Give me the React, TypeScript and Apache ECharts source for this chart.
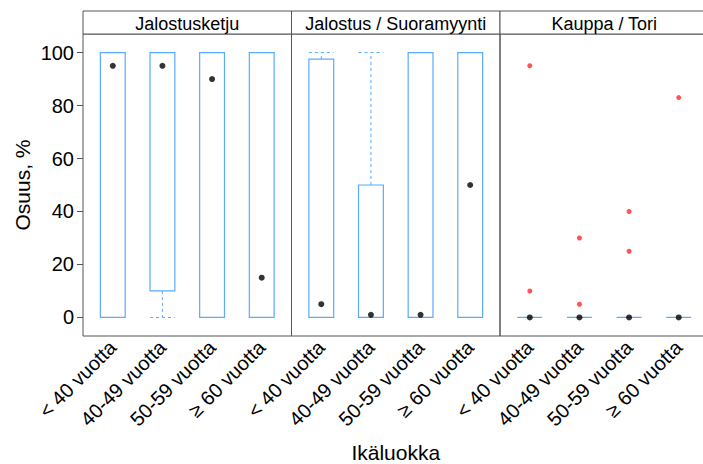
import React, { useEffect, useRef } from "react";
import * as echarts from "echarts";

const categories = ["< 40 vuotta", "40-49 vuotta", "50-59 vuotta", "≥ 60 vuotta"];
const panelTitles = ["Jalostusketju", "Jalostus / Suoramyynti", "Kauppa / Tori"];
const yTicks = [0, 20, 40, 60, 80, 100];

// [category index (1..4), lower whisker, Q1, median, Q3, upper whisker]
const jalostusketjuBoxes = [
  [1, 0, 0, 95, 100, 100],
  [2, 0, 10, 95, 100, 100],
  [3, 0, 0, 90, 100, 100],
  [4, 0, 0, 15, 100, 100],
];
const suoramyyntiBoxes = [
  [1, 0, 0, 5, 97.5, 100],
  [2, 0, 0, 1, 50, 100],
  [3, 0, 0, 1, 100, 100],
  [4, 0, 0, 50, 100, 100],
];
const kauppaBoxes = [
  [1, 0, 0, 0, 0, 0],
  [2, 0, 0, 0, 0, 0],
  [3, 0, 0, 0, 0, 0],
  [4, 0, 0, 0, 0, 0],
];
const jalostusketjuOutliers: number[][] = [];
const suoramyyntiOutliers: number[][] = [];
const kauppaOutliers = [
  [1, 95],
  [1, 10],
  [2, 30],
  [2, 5],
  [3, 40],
  [3, 25],
  [4, 83],
];

const BLUE = "#5aaaff";
const RED = "#ff2a2a";
const FRAME = "#555555";
const FONT = "Liberation Sans, Arial, sans-serif";

const panelLeft = [83, 291.5, 500];
const panelWidth = 208.5;
const panelTop = 34;
const panelHeight = 302;
const stripTop = 11;

export default function App() {
  const ref = useRef<HTMLDivElement>(null);
  useEffect(() => {
    if (!ref.current) return;
    const chart = echarts.init(ref.current, null, { renderer: "svg" });
    const boxSets = [jalostusketjuBoxes, suoramyyntiBoxes, kauppaBoxes];
    const outlierSets = [jalostusketjuOutliers, suoramyyntiOutliers, kauppaOutliers];

    const grids = panelLeft.map((l) => ({
      left: l,
      top: panelTop,
      width: panelWidth,
      height: panelHeight,
      show: true,
      borderColor: FRAME,
      borderWidth: 1,
      backgroundColor: "transparent",
      containLabel: false,
      outerBoundsMode: "none",
    }));

    const xAxes = panelLeft.map((_, i) => ({
      type: "value",
      gridIndex: i,
      min: 0.4,
      max: 4.6,
      splitLine: { show: false },
      axisLine: { show: false },
      axisTick: { show: false },
      axisLabel: {
        customValues: [1, 2, 3, 4],
        formatter: (v: number) => categories[Math.round(v) - 1] ?? "",
        rotate: 45,
        fontSize: 20,
        fontFamily: FONT,
        color: "#000",
        margin: 8,
      },
      ...(i === 1
        ? {
            name: "Ikäluokka",
            nameLocation: "middle",
            nameGap: 106,
            nameTextStyle: { fontSize: 21, fontFamily: FONT, color: "#000" },
          }
        : {}),
    }));

    const yAxes = panelLeft.map((_, i) => ({
      type: "value",
      gridIndex: i,
      min: -7,
      max: 107,
      splitLine: { show: false },
      axisLine: { show: false },
      axisTick: {
        show: i === 0,
        customValues: yTicks,
        length: 6,
        lineStyle: { color: FRAME },
      },
      axisLabel: {
        show: i === 0,
        customValues: yTicks,
        fontSize: 20,
        fontFamily: FONT,
        color: "#000",
        margin: 9,
      },
      ...(i === 0
        ? {
            name: "Osuus, %",
            nameLocation: "middle",
            nameGap: 50,
            nameRotate: 90,
            nameTextStyle: { fontSize: 21, fontFamily: FONT, color: "#000" },
          }
        : {}),
    }));

    const series: any[] = [];
    boxSets.forEach((boxes, i) => {
      series.push({
        type: "custom",
        xAxisIndex: i,
        yAxisIndex: i,
        data: boxes,
        encode: { x: 0, y: [1, 2, 3, 4, 5] },
        renderItem: (_params: any, api: any) => {
          const x = api.value(0);
          const lo = api.value(1);
          const q1 = api.value(2);
          const q3 = api.value(4);
          const hi = api.value(5);
          const hw = 0.25;
          const p = (xx: number, yy: number) => api.coord([xx, yy]);
          const children: any[] = [];
          const dash = { stroke: BLUE, lineWidth: 1, lineDash: [3, 3], fill: null };
          const addWhisker = (from: number, to: number) => {
            const a = p(x, from);
            const b = p(x, to);
            const c1 = p(x - hw, to);
            const c2 = p(x + hw, to);
            children.push({
              type: "line",
              shape: { x1: a[0], y1: a[1], x2: b[0], y2: b[1] },
              style: dash,
            });
            children.push({
              type: "line",
              shape: { x1: c1[0], y1: c1[1], x2: c2[0], y2: c2[1] },
              style: dash,
            });
          };
          if (hi > q3) addWhisker(q3, hi);
          if (lo < q1) addWhisker(q1, lo);
          children.push({
            type: "polygon",
            shape: {
              points: [p(x - hw, q1), p(x + hw, q1), p(x + hw, q3), p(x - hw, q3)],
            },
            style: { fill: "none", stroke: BLUE, lineWidth: 1.2 },
          });
          return { type: "group", children };
        },
        z: 2,
      });
      series.push({
        type: "scatter",
        xAxisIndex: i,
        yAxisIndex: i,
        data: boxes.map((b) => [b[0], b[3]]),
        symbol: "circle",
        symbolSize: 6,
        itemStyle: { color: "#000" },
        z: 4,
      });
      series.push({
        type: "scatter",
        xAxisIndex: i,
        yAxisIndex: i,
        data: outlierSets[i],
        symbol: "circle",
        symbolSize: 5,
        itemStyle: { color: RED },
        z: 3,
      });
    });

    const graphic: any[] = [];
    panelLeft.forEach((l, i) => {
      graphic.push({
        type: "rect",
        shape: { x: l, y: stripTop, width: panelWidth, height: panelTop - stripTop },
        style: { fill: "#fff", stroke: FRAME, lineWidth: 1 },
      });
      graphic.push({
        type: "text",
        x: l + panelWidth / 2,
        y: (stripTop + panelTop) / 2 + 1,
        style: {
          text: panelTitles[i],
          fontSize: 18,
          fontFamily: FONT,
          fill: "#000",
          align: "center",
          verticalAlign: "middle",
        },
      });
    });

    chart.setOption({
      animation: false,
      backgroundColor: "#fff",
      grid: grids,
      xAxis: xAxes,
      yAxis: yAxes,
      series,
      graphic,
    });
    return () => chart.dispose();
  }, []);
  return (
    <div
      ref={ref}
      style={{ position: "absolute", left: 0, top: 0, width: 703, height: 464 }}
    />
  );
}
